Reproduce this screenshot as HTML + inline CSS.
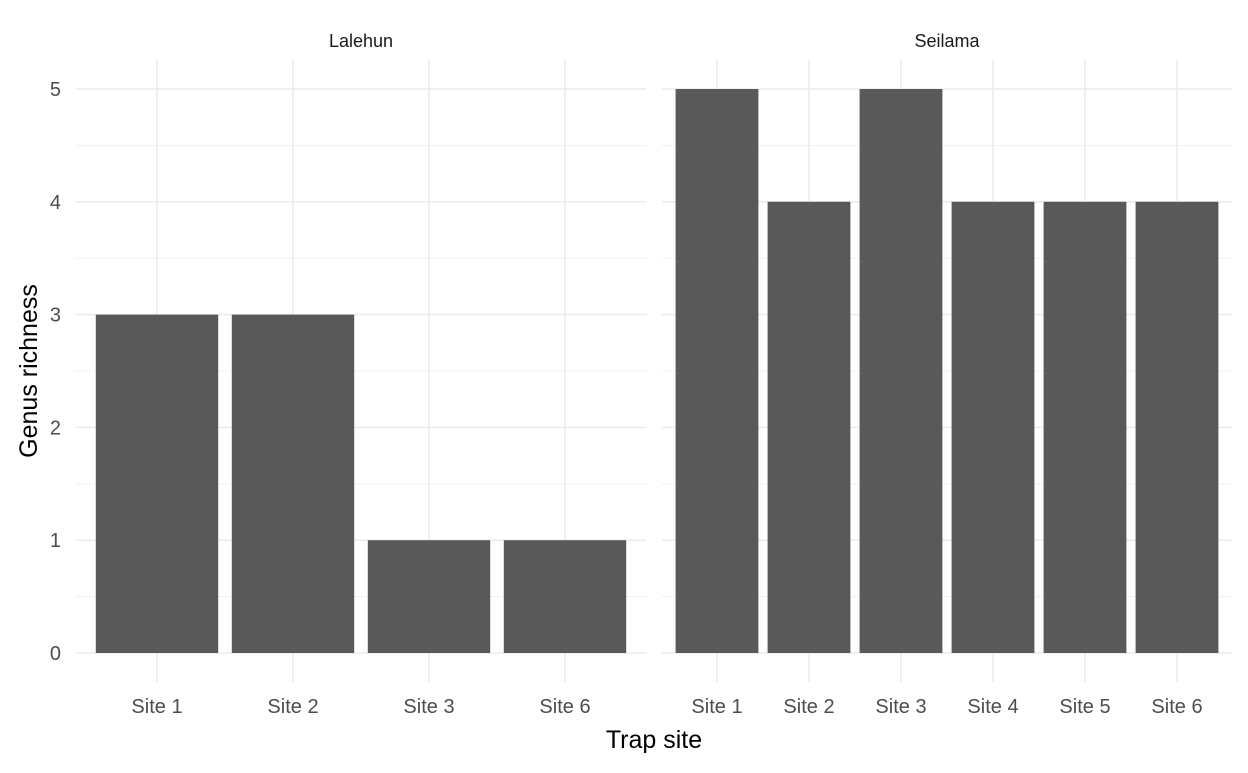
<!DOCTYPE html>
<html><head><meta charset="utf-8"><style>
body{margin:0;background:#fff}
svg text{font-family:"Liberation Sans",Arial,sans-serif}
</style></head><body>
<svg id="chart" width="1248" height="768" xmlns="http://www.w3.org/2000/svg"></svg>
<script>
const panelNames = ["Lalehun", "Seilama"];
const lalehunCats = ["Site 1", "Site 2", "Site 3", "Site 6"];
const lalehunVals = [3, 3, 1, 1];
const seilamaCats = ["Site 1", "Site 2", "Site 3", "Site 4", "Site 5", "Site 6"];
const seilamaVals = [5, 4, 5, 4, 4, 4];
const yTicks = [0, 1, 2, 3, 4, 5];

const svg = document.getElementById('chart');
const NS = 'http://www.w3.org/2000/svg';
function mk(tag, attrs, parent) {
  const e = document.createElementNS(NS, tag);
  for (const k in attrs) e.setAttribute(k, attrs[k]);
  (parent || svg).appendChild(e);
  return e;
}
const yTop = 60, yBot = 682;
const y0 = 653, yUnit = (653 - 89) / 5;
function yScale(v) { return y0 - v * yUnit; }

const panels = [
  {name: panelNames[0], cats: lalehunCats, vals: lalehunVals, left: 75.4, right: 646.6},
  {name: panelNames[1], cats: seilamaCats, vals: seilamaVals, left: 661.8, right: 1232.2}
];
panels.forEach((p, pi) => {
  const g = mk('g', {});
  
  
  const n = p.cats.length;
  const step = (p.right - p.left) / (n + 0.2);
  const xScale = i => p.left + (0.6 + i) * step;
  for (let v = 0.5; v < 5; v += 1) {
    const l = mk('line', {x1: p.left, x2: p.right, y1: yScale(v), y2: yScale(v), stroke: '#f1f1f1', 'stroke-width': 1}, g);
    
    
  }
  yTicks.forEach(t => {
    const l = mk('line', {x1: p.left, x2: p.right, y1: yScale(t), y2: yScale(t), stroke: '#ebebeb', 'stroke-width': 1.5}, g);
    
    
  });
  p.cats.forEach((c, i) => {
    const l = mk('line', {x1: xScale(i), x2: xScale(i), y1: yTop, y2: yBot, stroke: '#ebebeb', 'stroke-width': 1.5}, g);
    
    
  });
  p.cats.forEach((c, i) => {
    const w = step * 0.9;
    const r = mk('rect', {x: xScale(i) - w / 2, y: yScale(p.vals[i]), width: w, height: yScale(0) - yScale(p.vals[i]), fill: '#595959'}, g);
    
    
    const t = mk('text', {x: xScale(i), y: 713, 'text-anchor': 'middle', 'font-size': 20, fill: '#4d4d4d'}, g);
    t.textContent = c;
    
    
  });
  const s = mk('text', {x: (p.left + p.right) / 2, y: 47, 'text-anchor': 'middle', 'font-size': 18, fill: '#1a1a1a'}, g);
  s.textContent = p.name;
  
  
});
yTicks.forEach(t => {
  const e = mk('text', {x: 61, y: yScale(t) + 7, 'text-anchor': 'end', 'font-size': 20, fill: '#4d4d4d'});
  e.textContent = t;
  
  
});
const xt = mk('text', {x: 654, y: 748, 'text-anchor': 'middle', 'font-size': 25, fill: '#000'});
xt.textContent = 'Trap site';


const yt = mk('text', {x: 37, y: 371, 'text-anchor': 'middle', 'font-size': 25, fill: '#000', transform: 'rotate(-90 37 371)'});
yt.textContent = 'Genus richness';


</script>
</body></html>
